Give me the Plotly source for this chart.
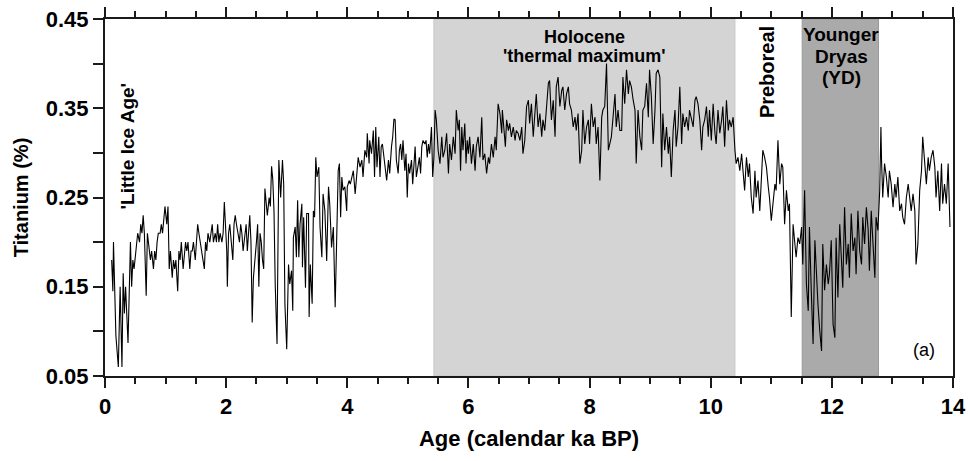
import plotly.graph_objects as go

# ---------------- data ----------------
# Age in calendar ka BP and Titanium (%) — segment by segment
age_a = [0.11,0.13,0.14,0.16,0.18,0.22,0.24,0.25,0.28,0.30,
         0.32,0.34,0.38,0.40,0.42,0.44,0.46,0.48,0.51,0.52,
         0.54,0.57,0.59,0.61,0.63,0.65,0.68,0.70,0.73,0.75,
         0.77,0.80,0.82,0.84,0.86,0.88,0.91,0.93,0.95,0.97,
         0.99,1.02,1.04,1.06,1.08,1.11,1.13,1.15,1.17,1.20,
         1.22,1.24,1.26,1.29,1.31,1.33,1.35,1.37,1.40,1.42,
         1.44,1.46,1.49,1.51,1.53,1.55,1.57,1.60,1.62,1.64,
         1.66,1.68,1.70,1.73,1.75,1.77,1.79,1.82,1.84,1.86,
         1.88,1.90,1.93,1.95,1.97,1.99,2.01,2.02,2.04,2.06,
         2.08,2.11,2.13,2.15,2.17,2.19,2.22,2.24,2.26,2.28,
         2.30,2.33,2.35,2.37,2.39,2.41,2.43,2.45,2.48,2.50,
         2.52,2.54,2.56,2.58,2.60,2.62,2.64,2.66,2.68,2.71,
         2.73,2.75,2.77]
ti_a = [0.18,0.145,0.20,0.13,0.095,0.06,0.12,0.15,0.06,0.165,
        0.12,0.15,0.087,0.16,0.20,0.15,0.18,0.17,0.19,0.20,
        0.21,0.20,0.22,0.21,0.23,0.21,0.14,0.21,0.19,0.18,
        0.19,0.17,0.19,0.18,0.20,0.21,0.21,0.22,0.21,0.23,
        0.24,0.22,0.24,0.17,0.19,0.16,0.18,0.17,0.18,0.145,
        0.19,0.18,0.20,0.17,0.19,0.20,0.19,0.20,0.17,0.19,
        0.19,0.20,0.18,0.20,0.22,0.21,0.20,0.19,0.18,0.17,
        0.20,0.19,0.21,0.20,0.21,0.22,0.20,0.21,0.20,0.22,
        0.20,0.21,0.20,0.21,0.245,0.22,0.19,0.15,0.21,0.22,
        0.20,0.18,0.22,0.23,0.22,0.21,0.20,0.22,0.21,0.19,
        0.20,0.22,0.19,0.21,0.23,0.20,0.11,0.16,0.18,0.20,
        0.22,0.15,0.21,0.20,0.18,0.17,0.26,0.24,0.23,0.25,
        0.24,0.285,0.27]

age_b = [2.79,2.81,2.84,2.87,2.90,2.93,2.95,2.97,3.00,3.03,
         3.05,3.08,3.10,3.11,3.14,3.16,3.18,3.20,3.22,3.25,
         3.26,3.28,3.31,3.33,3.36,3.37,3.39,3.42,3.44,3.46,
         3.48,3.50,3.53,3.55,3.58,3.60,3.63,3.66,3.69,3.71,
         3.74,3.77,3.80,3.82,3.85,3.87,3.89,3.91,3.93,3.96,
         3.99,4.00,4.03,4.05,4.08,4.10,4.13,4.15,4.18,4.21,
         4.24,4.26,4.29,4.32,4.33,4.36,4.37,4.40,4.43,4.45,
         4.47,4.49,4.52,4.54,4.56,4.58,4.60,4.63,4.65,4.68,
         4.70,4.73,4.75,4.77,4.79,4.81,4.84,4.86,4.88,4.90,
         4.92,4.95,4.97,4.99,5.01,5.03,5.06,5.08,5.10,5.12,
         5.14,5.17,5.19,5.21,5.23,5.25,5.28,5.30,5.32,5.34,
         5.36,5.39,5.41,5.43,5.45]
ti_b = [.235,.153,.086,.292,.250,.292,.265,.131,.080,.175,
        .153,.168,.123,.205,.217,.183,.247,.183,.220,.243,
        .172,.228,.149,.232,.232,.116,.175,.131,.235,.228,
        .295,.273,.284,.217,.183,.254,.235,.179,.262,.243,
        .194,.217,.127,.205,.280,.288,.228,.273,.258,.262,
        .235,.262,.269,.265,.273,.280,.254,.269,.295,.284,
        .292,.273,.303,.295,.322,.288,.314,.299,.325,.273,
        .329,.284,.318,.273,.307,.310,.299,.284,.269,.292,
        .277,.307,.318,.338,.337,.292,.277,.303,.310,.292,
        .314,.280,.299,.250,.288,.277,.292,.265,.284,.307,
        .273,.284,.295,.277,.307,.314,.310,.314,.295,.310,
        .299,.329,.273,.295,.348]

age_c = [5.47,5.50,5.53,5.56,5.58,5.61,5.64,5.67,5.69,5.72,
         5.75,5.78,5.80,5.83,5.85,5.87,5.89,5.91,5.94,5.96,
         5.98,6.00,6.02,6.05,6.08,6.11,6.13,6.16,6.19,6.22,
         6.24,6.27,6.30,6.33,6.35,6.38,6.41,6.44,6.46,6.49,
         6.52,6.55,6.56,6.58,6.61,6.63,6.66,6.68,6.71,6.74,
         6.77,6.79,6.82,6.85,6.88,6.90,6.93,6.96,6.99,7.01,
         7.04,7.07,7.10,7.12,7.15,7.18,7.21,7.23,7.26,7.29,
         7.32,7.34,7.37,7.40,7.43,7.45,7.48,7.51,7.54,7.56,
         7.59,7.62,7.65,7.67,7.70,7.73,7.76,7.78,7.81,7.84,
         7.87,7.89,7.92,7.95,7.98,8.00,8.03,8.06,8.09,8.11,
         8.14,8.17,8.20,8.22,8.25,8.28,8.31]
ti_c = [.337,.303,.288,.318,.295,.303,.322,.277,.310,.292,
        .318,.299,.348,.325,.337,.280,.329,.303,.333,.288,
        .314,.299,.318,.288,.310,.280,.307,.318,.295,.340,
        .292,.299,.277,.295,.288,.310,.295,.318,.303,.355,
        .344,.322,.348,.329,.307,.337,.325,.333,.318,.329,
        .314,.325,.322,.314,.329,.299,.314,.352,.359,.333,
        .355,.318,.348,.366,.329,.344,.318,.337,.325,.348,
        .378,.381,.337,.359,.318,.374,.385,.352,.370,.374,
        .348,.366,.374,.355,.348,.329,.340,.325,.344,.288,
        .303,.348,.310,.329,.337,.310,.355,.329,.340,.310,
        .329,.269,.340,.348,.352,.400,.303]

age_d = [8.36,8.39,8.42,8.44,8.47,8.50,8.53,8.55,8.58,8.61,
         8.64,8.66,8.69,8.72,8.75,8.77,8.80,8.83,8.86,8.88,
         8.91,8.94,8.97,8.99,9.02,9.05,9.08,9.10,9.13,9.16,
         9.19,9.21,9.24,9.27,9.30,9.32,9.35,9.38,9.41,9.43,
         9.46,9.49,9.52,9.54,9.57,9.60,9.63,9.65,9.68,9.71,
         9.74,9.76,9.79,9.82,9.85,9.87,9.90,9.93,9.96,9.98,
         10.01,10.04,10.07,10.09,10.12,10.15,10.18,10.20,10.23,10.26,
         10.29,10.31,10.34,10.37,10.40,10.42,10.45,10.48,10.51,10.53,
         10.56,10.59,10.62,10.64,10.67,10.70,10.73,10.75,10.78,10.81,
         10.84,10.86,10.89,10.92,10.95,10.97,11.00,11.03,11.06,11.08,
         11.11]
ti_d = [.318,.348,.366,.329,.348,.325,.325,.385,.355,.393,
        .366,.381,.374,.359,.348,.288,.348,.318,.303,.348,
        .352,.378,.340,.393,.363,.310,.348,.389,.393,.385,
        .284,.344,.303,.329,.299,.318,.273,.325,.348,.307,
        .329,.374,.310,.344,.329,.340,.325,.348,.337,.329,
        .359,.363,.355,.337,.303,.329,.337,.352,.318,.348,
        .314,.355,.322,.310,.348,.322,.337,.352,.307,.359,
        .325,.337,.329,.340,.303,.288,.295,.280,.299,.284,
        .258,.295,.273,.288,.250,.232,.280,.250,.269,.235,
        .284,.303,.295,.284,.262,.250,.224,.243,.265,.258,
        .314]

age_e = [11.14,11.17,11.19,11.22,11.25,11.28,11.30,11.33,11.36,11.39,
         11.41,11.44,11.47,11.50,11.52,11.55,11.58,11.61,11.63,11.66,
         11.69,11.72,11.74,11.77,11.80,11.83,11.85,11.88,11.91,11.94,
         11.96,11.99,12.02,12.05,12.07,12.10,12.13,12.16,12.18,12.21,
         12.24,12.27,12.29,12.32,12.35,12.38,12.40,12.43,12.46,12.49,
         12.51,12.54,12.57,12.60,12.62,12.65,12.68,12.71,12.73,12.76,
         12.79,12.81,12.82,12.84,12.87,12.90,12.93,12.95,12.98,13.01,
         13.04,13.06,13.09,13.12,13.15,13.17,13.20,13.23,13.26,13.28,
         13.31,13.34,13.37,13.39,13.42,13.45,13.48,13.50,13.53,13.56,
         13.59,13.61,13.64,13.67,13.70,13.72,13.75,13.78,13.81,13.83,
         13.86,13.89,13.92,13.95]
ti_e = [.265,.288,.284,.220,.258,.235,.243,.116,.220,.198,
        .183,.205,.198,.217,.175,.258,.153,.123,.217,.146,
        .086,.202,.168,.131,.101,.078,.198,.146,.175,.153,
        .164,.202,.108,.093,.205,.138,.220,.172,.149,.239,
        .175,.198,.160,.232,.190,.205,.164,.235,.190,.175,
        .228,.198,.239,.213,.168,.235,.198,.160,.228,.213,
        .258,.329,.292,.250,.288,.273,.250,.280,.265,.239,
        .265,.250,.273,.235,.243,.228,.220,.250,.265,.250,
        .235,.254,.235,.175,.198,.258,.280,.318,.288,.265,
        .295,.280,.295,.303,.284,.250,.280,.235,.288,.243,
        .265,.243,.288,.217]

# climatic periods (ka BP)
holocene_tm = [5.43, 10.40]
younger_dryas = [11.51, 12.77]

# axis ticks
y_tickvals = [0.05, 0.10, 0.15, 0.20, 0.25, 0.30, 0.35, 0.40, 0.45]
y_ticktext = ["0.05", "", "0.15", "", "0.25", "", "0.35", "", "0.45"]
x_tickvals = [0, 2, 4, 6, 8, 10, 12, 14]

ages = age_a + age_b + age_c + age_d + age_e
titanium = ti_a + ti_b + ti_c + ti_d + ti_e
assert len(ages) == len(titanium)

FONT = "Liberation Sans, Arial, Helvetica, sans-serif"
AX = "#1a1a1a"

fig = go.Figure()
fig.add_trace(go.Scatter(x=ages, y=titanium, mode="lines",
                         line=dict(color="black", width=1.1),
                         showlegend=False, hoverinfo="x+y"))

fig.add_shape(type="rect", xref="x", yref="y",
              x0=holocene_tm[0], x1=holocene_tm[1], y0=0.05, y1=0.45,
              fillcolor="#d4d4d4", line=dict(color="#c8c8c8", width=1), layer="below")
fig.add_shape(type="rect", xref="x", yref="y",
              x0=younger_dryas[0], x1=younger_dryas[1], y0=0.05, y1=0.45,
              fillcolor="#aaaaaa", line=dict(color="#9a9a9a", width=1), layer="below")

def ann(text, x, y, size=19, weight="bold", angle=0):
    fig.add_annotation(text=text, xref="paper", yref="paper", x=x, y=y,
                       xanchor="center", yanchor="middle", showarrow=False,
                       textangle=angle,
                       font=dict(family=FONT, size=size, color="black", weight=weight))

ann("'Little Ice Age'", 0.026, 0.643, angle=-90)
ann("Holocene", 0.566, 0.950, size=18)
ann("'thermal maximum'", 0.566, 0.897, size=18)
ann("Preboreal", 0.781, 0.852, size=20, angle=-90)
ann("Younger", 0.868, 0.957)
ann("Dryas", 0.868, 0.896)
ann("(YD)", 0.868, 0.836)
ann("(a)", 0.966, 0.074, size=18, weight="normal")

fig.update_layout(
    width=968, height=461,
    margin=dict(l=105, r=15, t=19, b=85, autoexpand=False),
    paper_bgcolor="white", plot_bgcolor="white",
    font=dict(family=FONT, color="black"),
    xaxis=dict(range=[0, 14], tickmode="array", tickvals=x_tickvals,
               automargin=False,
               showline=True, linewidth=2, linecolor=AX, mirror="ticks",
               ticks="outside", ticklen=10, tickwidth=2, tickcolor=AX,
               minor=dict(dtick=0.5, tick0=0, ticks="outside", ticklen=6,
                          tickwidth=2, tickcolor=AX, showgrid=False),
               showgrid=False, zeroline=False,
               tickfont=dict(family=FONT, size=22, weight="bold"),
               title=dict(text="Age (calendar ka BP)", standoff=12,
                          font=dict(family=FONT, size=22, weight="bold"))),
    yaxis=dict(range=[0.05, 0.45], tickmode="array", tickvals=y_tickvals,
               ticktext=y_ticktext, automargin=False,
               showline=True, linewidth=2, linecolor=AX, mirror=True,
               ticks="outside", ticklen=10, tickwidth=2, tickcolor=AX,
               showgrid=False, zeroline=False,
               tickfont=dict(family=FONT, size=22, weight="bold"),
               title=dict(text="Titanium (%)", standoff=12,
                          font=dict(family=FONT, size=20, weight="bold"))),
)

fig.write_html("out.html")
